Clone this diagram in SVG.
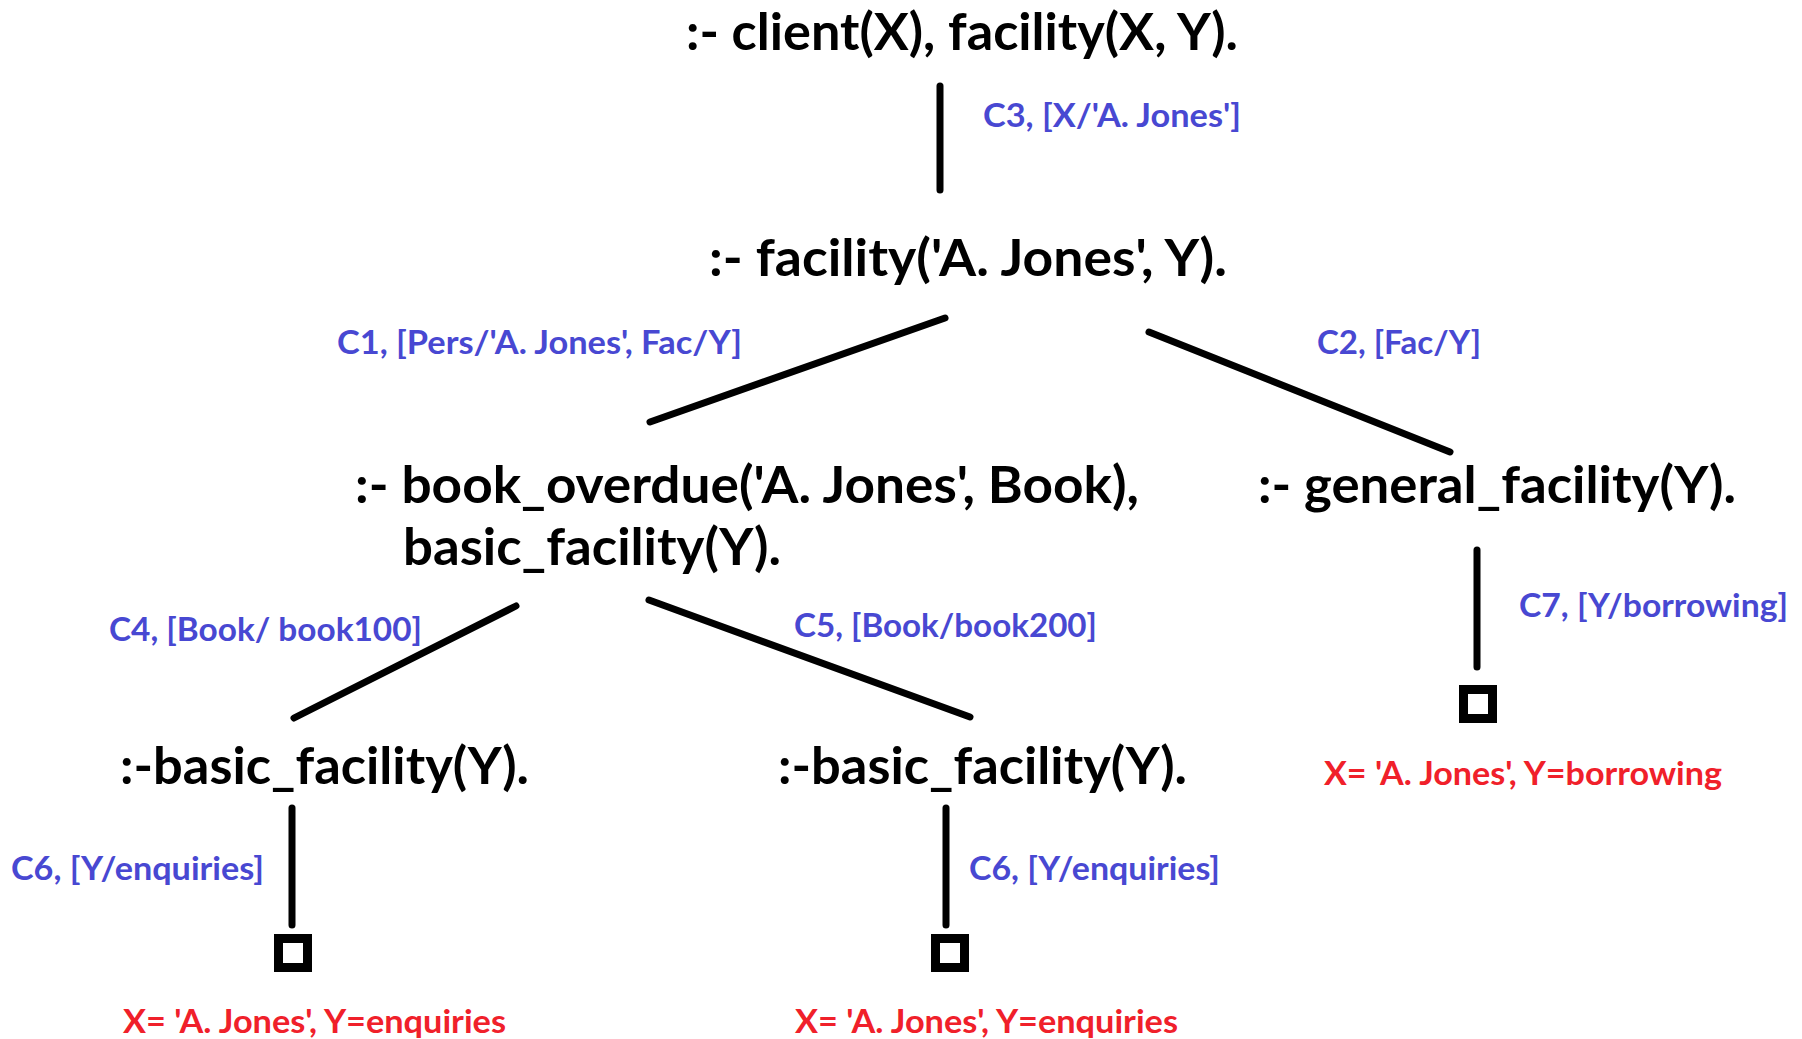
<svg xmlns="http://www.w3.org/2000/svg" width="1802" height="1039" viewBox="0 0 1802 1039">
<style>
.node{font-family:Lato,"Liberation Sans",sans-serif;font-weight:bold;font-size:52px;fill:#000}
.lbl{font-family:Lato,"Liberation Sans",sans-serif;font-weight:bold;font-size:33px;fill:#4848d2}
.res{font-family:Lato,"Liberation Sans",sans-serif;font-weight:bold;font-size:33px;fill:#f0202a}
.edge{stroke:#000;stroke-width:7;stroke-linecap:round;fill:none}
.box{fill:none;stroke:#000;stroke-width:9}
</style>
<rect width="1802" height="1039" fill="#fff"/>
<g id="connectors">
<line class="edge" x1="940" y1="86" x2="940" y2="190"/>
<line class="edge" x1="945" y1="318" x2="650" y2="422"/>
<line class="edge" x1="1149" y1="332" x2="1450" y2="452"/>
<line class="edge" x1="516" y1="606" x2="294" y2="718"/>
<line class="edge" x1="649" y1="600" x2="970" y2="717"/>
<line class="edge" x1="1477" y1="550" x2="1477" y2="667"/>
<line class="edge" x1="292" y1="808" x2="292" y2="925"/>
<line class="edge" x1="946" y1="808" x2="946" y2="925"/>
<text class="lbl" x="983" y="127" textLength="258" lengthAdjust="spacingAndGlyphs">C3, [X/'A. Jones']</text>
<text class="lbl" x="337" y="354" textLength="405" lengthAdjust="spacingAndGlyphs">C1, [Pers/'A. Jones', Fac/Y]</text>
<text class="lbl" x="1317" y="354" textLength="164" lengthAdjust="spacingAndGlyphs">C2, [Fac/Y]</text>
<text class="lbl" x="109" y="641" textLength="313" lengthAdjust="spacingAndGlyphs">C4, [Book/ book100]</text>
<text class="lbl" x="794" y="637" textLength="303" lengthAdjust="spacingAndGlyphs">C5, [Book/book200]</text>
<text class="lbl" x="1519" y="617" textLength="269" lengthAdjust="spacingAndGlyphs">C7, [Y/borrowing]</text>
<text class="lbl" x="11" y="880" textLength="253" lengthAdjust="spacingAndGlyphs">C6, [Y/enquiries]</text>
<text class="lbl" x="969" y="880" textLength="251" lengthAdjust="spacingAndGlyphs">C6, [Y/enquiries]</text>
</g>
<g id="n1"><text class="node" x="686" y="50" textLength="552" lengthAdjust="spacingAndGlyphs">:- client(X), facility(X, Y).</text></g>
<g id="n2"><text class="node" x="709" y="276" textLength="518" lengthAdjust="spacingAndGlyphs">:- facility('A. Jones', Y).</text></g>
<g id="n3">
<text class="node" x="355" y="503" textLength="784" lengthAdjust="spacingAndGlyphs">:- book_overdue('A. Jones', Book),</text>
<text class="node" x="403" y="565" textLength="378" lengthAdjust="spacingAndGlyphs">basic_facility(Y).</text>
</g>
<g id="n4"><text class="node" x="1258" y="503" textLength="478" lengthAdjust="spacingAndGlyphs">:- general_facility(Y).</text></g>
<g id="n5"><text class="node" x="120" y="784" textLength="409" lengthAdjust="spacingAndGlyphs">:-basic_facility(Y).</text></g>
<g id="n6"><text class="node" x="778" y="784" textLength="409" lengthAdjust="spacingAndGlyphs">:-basic_facility(Y).</text></g>
<g id="s1"><rect class="box" x="278.5" y="938.5" width="29" height="29"/><text class="res" x="123" y="1033" textLength="383" lengthAdjust="spacingAndGlyphs">X= 'A. Jones', Y=enquiries</text></g>
<g id="s2"><rect class="box" x="935.5" y="938.5" width="29" height="29"/><text class="res" x="795" y="1033" textLength="383" lengthAdjust="spacingAndGlyphs">X= 'A. Jones', Y=enquiries</text></g>
<g id="s3"><rect class="box" x="1463.5" y="689.5" width="29" height="29"/><text class="res" x="1324" y="785" textLength="398" lengthAdjust="spacingAndGlyphs">X= 'A. Jones', Y=borrowing</text></g>
</svg>
